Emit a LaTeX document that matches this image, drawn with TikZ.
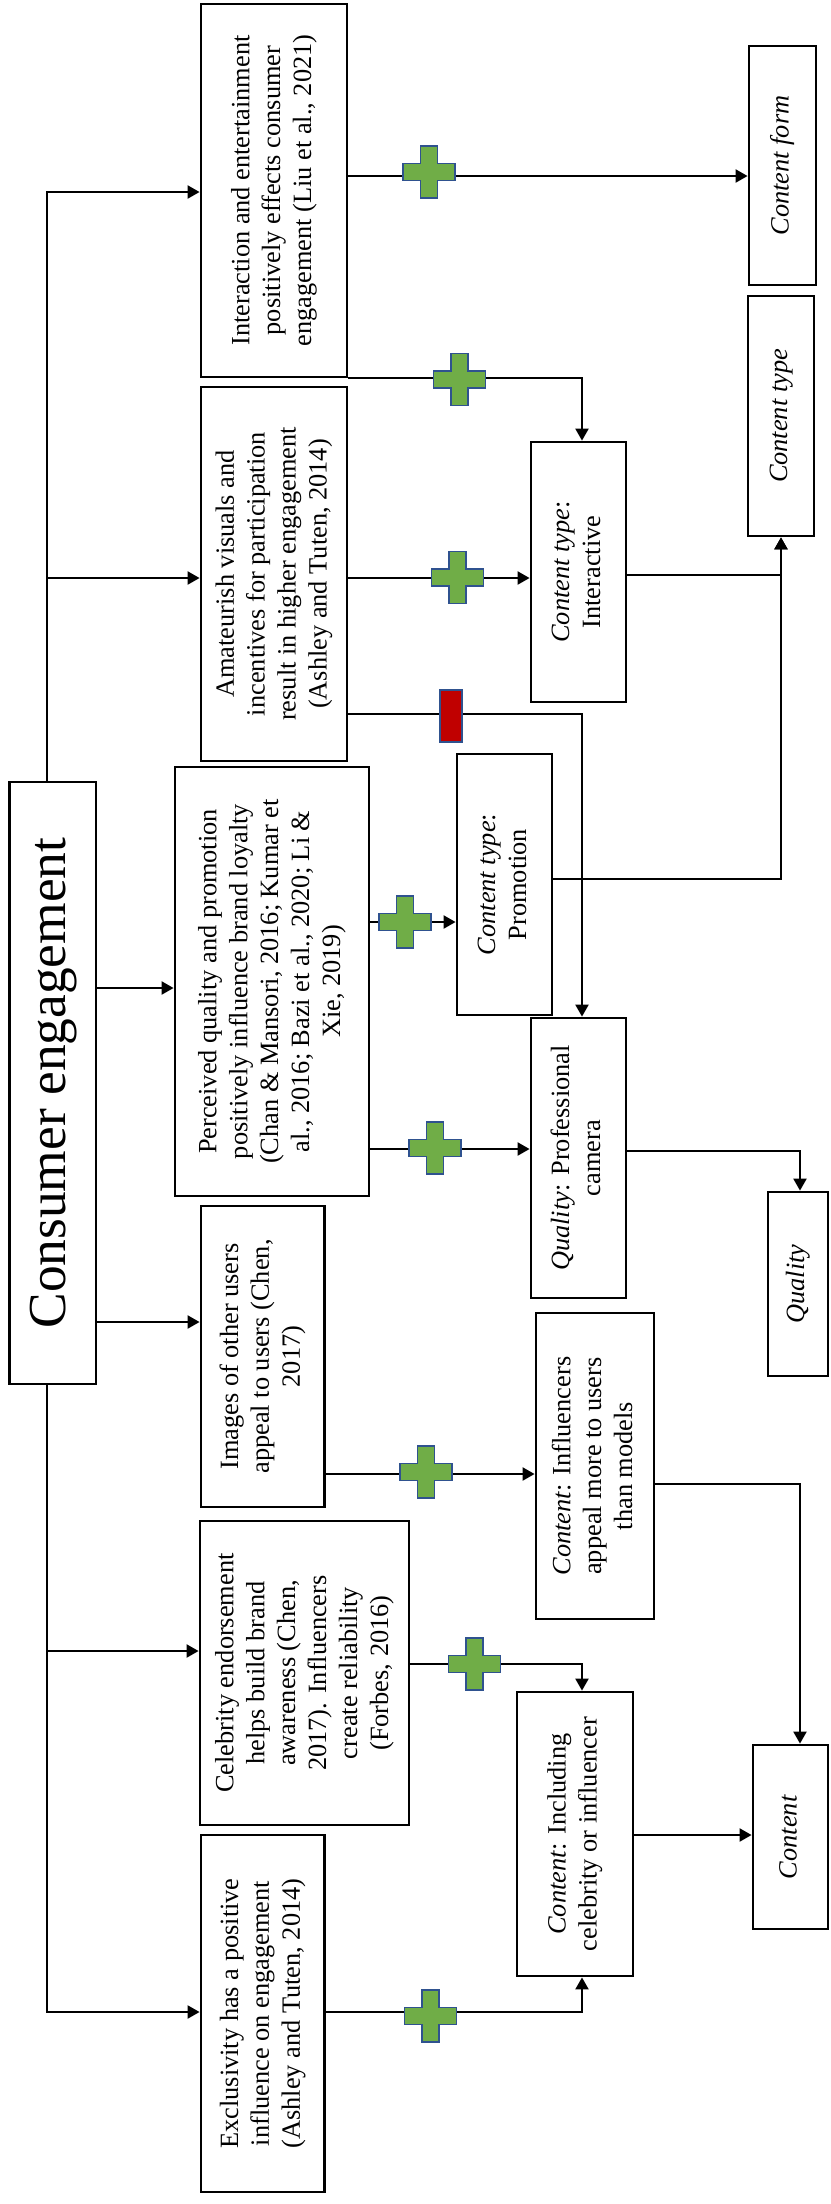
\documentclass[tikz,border=0pt]{standalone}
\usepackage{fontspec}
\usepackage{graphicx}
\usepackage{tikz}
\usetikzlibrary{arrows.meta}
\setmainfont{Liberation Serif}
\definecolor{plusgreen}{HTML}{70AD47}
\definecolor{minusred}{HTML}{C00000}
\definecolor{markedge}{HTML}{2F528F}
\newcommand{\vtext}[1]{\rotatebox{90}{\begin{tabular}{@{}c@{}}#1\end{tabular}}}
\newcommand{\plusmark}[2]{%
  \begin{scope}[shift={(#1,#2)}]
    \filldraw[fill=plusgreen, draw=markedge, line width=0.5pt]
      (-0.085,0.26) -- (0.085,0.26) -- (0.085,0.085) -- (0.26,0.085)
      -- (0.26,-0.085) -- (0.085,-0.085) -- (0.085,-0.26) -- (-0.085,-0.26)
      -- (-0.085,-0.085) -- (-0.26,-0.085) -- (-0.26,0.085) -- (-0.085,0.085) -- cycle;
  \end{scope}}
\newcommand{\minusmark}[2]{%
  \begin{scope}[shift={(#1,#2)}]
    \filldraw[fill=minusred, draw=markedge, line width=0.5pt]
      (-0.11,-0.26) rectangle (0.11,0.26);
  \end{scope}}

\begin{document}
\begin{tikzpicture}[x=1cm, y=1cm,
  box/.style 2 args={draw, line width=0.8pt, inner sep=0pt,
    minimum width=#1cm, minimum height=#2cm,
    font=\fontsize{7.5}{8.8}\selectfont},
  arr/.style={line width=0.6pt, -{Triangle[length=0.12cm, width=0.13cm]}},
  link/.style={line width=0.6pt}]

\useasboundingbox (0,0) rectangle (8.30,-22.04);

\node[box={0.865}{6.02}, font=\fontsize{15.2}{18}\selectfont] (ce) at (0.5275,-10.83)
  {\vtext{Consumer engagement}};

\node[box={1.46}{3.73}] (inter) at (2.74,-1.905)
  {\vtext{Interaction and entertainment\\positively effects consumer\\engagement (Liu et al., 2021)}};
\node[box={1.46}{3.74}] (amat) at (2.74,-5.74)
  {\vtext{Amateurish visuals and\\incentives for participation\\result in higher engagement\\(Ashley and Tuten, 2014)}};
\node[box={1.94}{4.29}] (perc) at (2.72,-9.815)
  {\vtext{Perceived quality and promotion\\positively influence brand loyalty\\(Chan \& Mansori, 2016; Kumar et\\al., 2016; Bazi et al., 2020; Li \&\\Xie, 2019)}};
\node[box={1.235}{3.01}] (imgs) at (2.6275,-13.565)
  {\vtext{Images of other users\\appeal to users (Chen,\\2017)}};
\node[box={2.09}{3.04}] (celeb) at (3.045,-16.73)
  {\vtext{Celebrity endorsement\\helps build brand\\awareness (Chen,\\2017). Influencers\\create reliability\\(Forbes, 2016)}};
\node[box={1.235}{3.57}] (excl) at (2.6275,-20.135)
  {\vtext{Exclusivity has a positive\\influence on engagement\\(Ashley and Tuten, 2014)}};

\node[box={0.95}{2.60}] (cinter) at (5.785,-5.72)
  {\vtext{\textit{Content type}:\\Interactive}};
\node[box={0.95}{2.61}] (cpromo) at (5.045,-8.845)
  {\vtext{\textit{Content type}:\\Promotion}};
\node[box={0.95}{2.80}] (qcam) at (5.785,-11.58)
  {\vtext{\textit{Quality}: Professional\\camera}};
\node[box={1.18}{3.06}] (cinfl) at (5.95,-14.66)
  {\vtext{\textit{Content}: Influencers\\appeal more to users\\than models}};
\node[box={1.16}{2.84}] (cincl) at (5.75,-18.34)
  {\vtext{\textit{Content}: Including\\celebrity or influencer}};

\node[box={0.67}{2.39}] (cform) at (7.825,-1.655) {\vtext{\textit{Content form}}};
\node[box={0.66}{2.40}] (ctype) at (7.81,-4.16) {\vtext{\textit{Content type}}};
\node[box={0.60}{1.84}] (qual) at (7.98,-12.84) {\vtext{\textit{Quality}}};
\node[box={0.75}{1.84}] (cont) at (7.905,-18.37) {\vtext{\textit{Content}}};

\coordinate (tr) at (0.466,0);
\draw[arr] (ce.north -| tr) |- (inter.west |- 0,-1.92);
\draw[arr] (ce.north -| tr) |- (amat.west |- 0,-5.78);
\draw[arr] (ce.east |- 0,-9.88) -- (perc.west |- 0,-9.88);
\draw[arr] (ce.east |- 0,-13.22) -- (imgs.west |- 0,-13.22);
\draw[arr] (ce.south -| tr) |- (celeb.west |- 0,-16.51);
\draw[arr] (ce.south -| tr) |- (excl.west |- 0,-20.12);

\draw[arr] (inter.east |- 0,-1.76) -- (cform.west |- 0,-1.76);
\draw[arr] (inter.east |- 0,-3.78) -| (cinter.north -| 5.82,0);
\draw[arr] (amat.east |- 0,-5.78) -- (cinter.west |- 0,-5.78);
\draw[arr] (amat.east |- 0,-7.14) -| (qcam.north -| 5.82,0);
\draw[arr] (perc.east |- 0,-9.22) -- (cpromo.west |- 0,-9.22);
\draw[arr] (perc.east |- 0,-11.49) -- (qcam.west |- 0,-11.49);
\draw[arr] (imgs.east |- 0,-14.74) -- (cinfl.west |- 0,-14.74);
\draw[arr] (celeb.east |- 0,-16.64) -| (cincl.north -| 5.82,0);
\draw[arr] (excl.east |- 0,-20.12) -| (cincl.south -| 5.82,0);

\draw[arr] (cinter.east |- 0,-5.75) -| (ctype.south);
\draw[arr] (cpromo.east |- 0,-8.79) -| (ctype.south);
\draw[arr] (qcam.east |- 0,-11.51) -| (qual.north -| 8.00,0);
\draw[arr] (cinfl.east |- 0,-14.836) -| (cont.north -| 8.00,0);
\draw[arr] (cincl.east |- 0,-18.35) -- (cont.west |- 0,-18.35);

\plusmark{4.29}{-1.72}
\plusmark{4.595}{-3.795}
\plusmark{4.575}{-5.775}
\minusmark{4.51}{-7.16}
\plusmark{4.05}{-9.22}
\plusmark{4.35}{-11.48}
\plusmark{4.26}{-14.72}
\plusmark{4.745}{-16.64}
\plusmark{4.305}{-20.16}

\end{tikzpicture}
\end{document}
